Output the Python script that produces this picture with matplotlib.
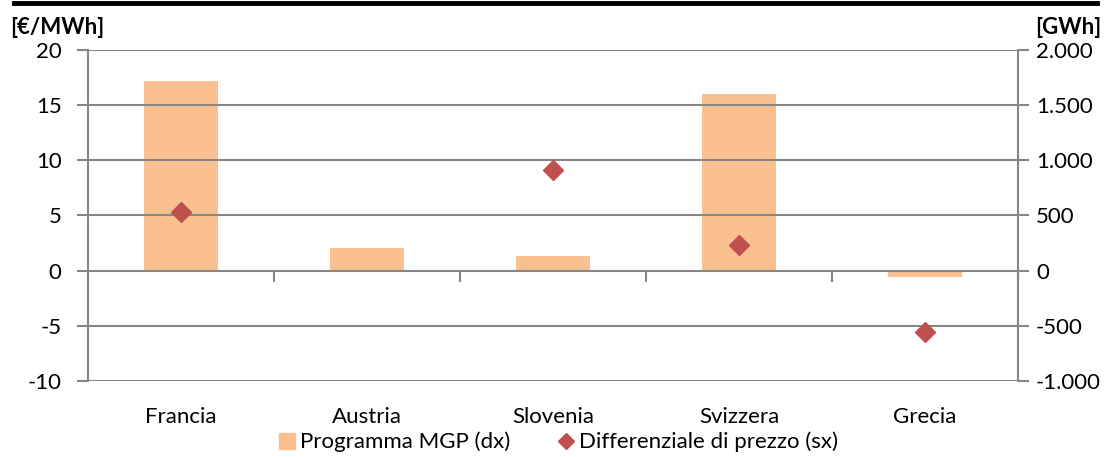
import matplotlib
matplotlib.use("Agg")
import matplotlib.pyplot as plt
from matplotlib.lines import Line2D
from matplotlib.ticker import FuncFormatter
import numpy as np

plt.rcParams['font.family'] = ['Lato', 'DejaVu Sans']
plt.rcParams['axes.unicode_minus'] = False

categories = ["Francia", "Austria", "Slovenia", "Svizzera", "Grecia"]
programma_mgp = [1720, 206, 133, 1600, -55]          # GWh (dx)
differenziale = [5.3, None, 9.1, 2.3, -5.6]          # €/MWh (sx)
left_ticks = [-10, -5, 0, 5, 10, 15, 20]
right_ticks = [-1000, -500, 0, 500, 1000, 1500, 2000]

bar_color = "#FAC090"
dia_color = "#C0504D"
grid_color = "#868686"
FS = 16

fig = plt.figure(figsize=(11.14, 4.57), dpi=100)
ax = fig.add_axes([88/1114, 1-381/457, (1018-88)/1114, (381-50)/457])
ax2 = ax.twinx()
ax.set_zorder(ax2.get_zorder() + 1)
ax.patch.set_visible(False)

x = np.arange(len(categories))
ax2.bar(x, programma_mgp, width=0.4, color=bar_color, zorder=2)
ax2.set_ylim(-1000, 2000)
ax2.set_yticks(right_ticks)
ax2.yaxis.set_major_formatter(FuncFormatter(lambda v, p: f"{int(v):,}".replace(",", ".")))

xs = [xi for xi, v in zip(x, differenziale) if v is not None]
ys = [v for v in differenziale if v is not None]
ax.plot(xs, ys, linestyle="none", marker="D", markersize=10, color=dia_color, zorder=5)

ax.set_ylim(-10, 20)
ax.set_yticks(left_ticks)
ax.set_xlim(-0.5, len(categories) - 0.5)
ax.set_xticks(x)
ax.set_xticklabels(categories)
ax.tick_params(axis="x", length=0, pad=19, labelsize=FS)
ax.tick_params(axis="y", direction="out", length=8, width=1.5, color=grid_color, labelsize=FS, pad=11)
ax2.tick_params(axis="y", direction="out", length=8, width=1.5, color=grid_color, labelsize=FS, pad=5)

ax.yaxis.grid(True, color=grid_color, linewidth=1.5, zorder=0)
ax.set_axisbelow(True)
ax2.yaxis.grid(False)

for a in (ax, ax2):
    for s in ("top", "bottom", "left", "right"):
        a.spines[s].set_visible(False)
ax.spines["left"].set_visible(True)
ax.spines["left"].set_color(grid_color)
ax.spines["left"].set_linewidth(1.5)
ax2.spines["right"].set_visible(True)
ax2.spines["right"].set_color(grid_color)
ax2.spines["right"].set_linewidth(1.5)

# category boundary ticks on the zero line
sec = ax.secondary_xaxis(1/3)
sec.set_xticks(np.arange(-0.5, len(categories), 1.0))
sec.set_xticklabels([])
sec.tick_params(axis="x", direction="out", length=8, width=1.5, color=grid_color)
sec.spines["bottom"].set_visible(False)

fig.text(10/1114, 1-27/457, "[€/MWh]", fontsize=FS, fontweight="bold", va="center", ha="left")
fig.text(1101/1114, 1-27/457, "[GWh]", fontsize=FS, fontweight="bold", va="center", ha="right")

# top black rule
fig.add_artist(Line2D([14/1114, 1097/1114], [1-2.5/457, 1-2.5/457], color="black", linewidth=3.5))

handles = [
    Line2D([], [], linestyle="none", marker="s", markersize=11, color=bar_color),
    Line2D([], [], linestyle="none", marker="D", markersize=8, color=dia_color),
]
fig.legend(handles, ["Programma MGP (dx)", "Differenziale di prezzo (sx)"],
           loc="center", bbox_to_anchor=(0.5, 1-442/457), ncol=2, frameon=False,
           fontsize=FS, handletextpad=0.1, columnspacing=2.0, handlelength=1.0,
           borderpad=0.1)

fig.savefig("out.png", dpi=100)
